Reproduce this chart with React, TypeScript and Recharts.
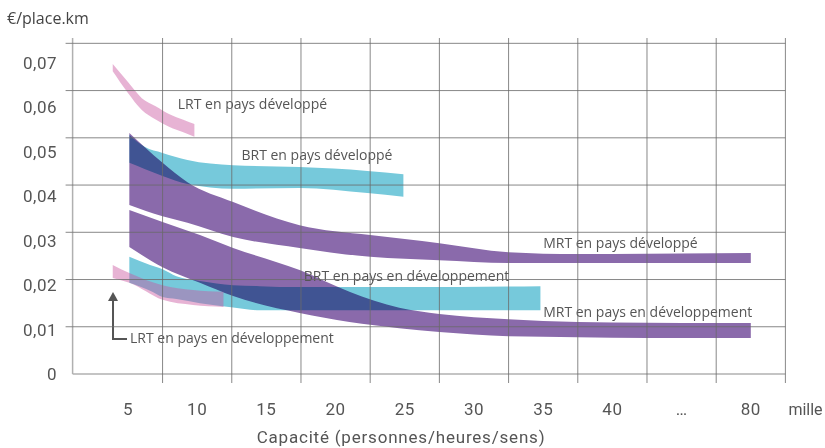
import React from 'react';
import { ComposedChart, Area, XAxis, YAxis, ReferenceDot, ReferenceLine, Label } from 'recharts';

// x axis is broken after 40: 5..40 every 5, then "…", then 80
const xTickLabels = ['5', '10', '15', '20', '25', '30', '35', '40', '…', '80'];
const xLabelTicks = [0, 1, 2, 3, 4, 5, 6, 7, 8, 9];
const xGridTicks = [0.5, 1.5, 2.5, 3.5, 4.5, 5.5, 6.5, 7.5, 8.5, 9.5];
const yTicks = [0, 0.01, 0.02, 0.03, 0.04, 0.05, 0.06, 0.07];

// capacity in thousands -> position on the axis
const pos = (c: number) => (c <= 40 ? (c - 5) / 5 : 7 + (c - 40) / 20);

// LRT en pays développé
const lrtDevCap = [3.9, 5, 6, 7, 8, 9, 9.8];
const lrtDevLow = [0.0641, 0.0595, 0.0559, 0.0539, 0.0523, 0.0512, 0.0502];
const lrtDevHigh = [0.0656, 0.0618, 0.0584, 0.0567, 0.055, 0.0538, 0.0529];

// BRT en pays développé
const brtDevCap = [5.1, 6.2, 7.5, 9.3, 12.6, 17.4, 22.3, 24.9];
const brtDevLow = [0.0447, 0.0434, 0.0419, 0.0402, 0.0392, 0.0394, 0.0383, 0.0375];
const brtDevHigh = [0.0506, 0.0481, 0.0468, 0.0453, 0.0442, 0.0438, 0.043, 0.0423];

// MRT en pays développé
const mrtDevCap = [5.1, 7.5, 9.3, 12.6, 17.4, 22.5, 27.5, 32.5, 37.5, 40, 60, 80];
const mrtDevLow = [0.0358, 0.0334, 0.032, 0.029, 0.0267, 0.0248, 0.0241, 0.0235, 0.0235, 0.0235, 0.0235, 0.0235];
const mrtDevHigh = [0.051, 0.0447, 0.0406, 0.0364, 0.0315, 0.0294, 0.0277, 0.0258, 0.0254, 0.0254, 0.0255, 0.0256];

// BRT en pays en développement
const brtEmCap = [5.1, 6.6, 7.5, 8.5, 10.2, 12.6, 14.5, 17.4, 25, 34.8];
const brtEmLow = [0.0193, 0.0176, 0.0163, 0.0159, 0.015, 0.0141, 0.0135, 0.0135, 0.0135, 0.0135];
const brtEmHigh = [0.0248, 0.0231, 0.0222, 0.0207, 0.0197, 0.0188, 0.0186, 0.0184, 0.0184, 0.0186];

// MRT en pays en développement
const mrtEmCap = [5.1, 7.5, 10.2, 12.6, 17.4, 21, 24.6, 27.5, 32.5, 37.5, 40, 60, 80];
const mrtEmLow = [0.0269, 0.0226, 0.0193, 0.0165, 0.0129, 0.011, 0.0097, 0.0089, 0.008, 0.0078, 0.0077, 0.0076, 0.0076];
const mrtEmHigh = [0.0347, 0.0322, 0.0294, 0.0267, 0.022, 0.0174, 0.014, 0.0127, 0.0116, 0.011, 0.0109, 0.0108, 0.0108];

// LRT en pays en développement
const lrtEmCap = [3.9, 5.1, 7.5, 9.7, 11.9];
const lrtEmLow = [0.0203, 0.0193, 0.0157, 0.0146, 0.0142];
const lrtEmHigh = [0.0231, 0.0214, 0.0188, 0.0178, 0.0174];

// text annotations: [label, capacity, value] at the left of the text
const notes: [string, number, number][] = [
  ['LRT en pays développé', 8.6, 0.0572],
  ['BRT en pays développé', 13.2, 0.0464],
  ['MRT en pays développé', 35, 0.0277],
  ['BRT en pays en développement', 17.7, 0.0207],
  ['MRT en pays en développement', 35, 0.0131],
  ['LRT en pays en développement', 5.15, 0.0076],
];

const band = (cap: number[], low: number[], high: number[]) =>
  cap.map((c, i) => ({ x: pos(c), range: [low[i], high[i]] }));

const W = 825;
const H = 448;
const X_AXIS_H = 74;
const Y_AXIS_W = 72.6;
const PLOT_BOTTOM = H - X_AXIS_H;
const X_DOMAIN = [-0.8, 9.5];
const Y_MAX = 0.07113;
// the printed y labels sit on a slightly compressed scale compared with the grid
const Y_LABEL_MAX = 0.07563;
const MARGIN = { top: 38, right: 39.6, bottom: 0, left: 0 };

const PINK = 'rgb(202,86,160)';
const CYAN = '#76c9db';
const PURPLE = '#8a6aab';
const GRID = '#6a6a6a';
const AXIS = '#b0b0b0';
const TEXT = '#555';
const TICK_FONT = 'Roboto';

const XTick = (props: any) => {
  const { x, y, payload } = props;
  const v = payload.value;
  if (Number.isInteger(v)) {
    return (
      <text x={x} y={y + 41} textAnchor="middle" fill={TEXT} fontSize={17} fontFamily={TICK_FONT} letterSpacing={0.5}>
        {xTickLabels[v]}
      </text>
    );
  }
  return <line x1={x} x2={x} y1={y} y2={y + 9} stroke={GRID} strokeOpacity={0.8} />;
};

const YTick = (props: any) => {
  const { x, y, payload } = props;
  const v = payload.value;
  const ly = PLOT_BOTTOM - ((PLOT_BOTTOM - y) * Y_MAX) / Y_LABEL_MAX;
  return (
    <g>
      {v > 0 && <line x1={x - 7} x2={x} y1={y} y2={y} stroke={GRID} strokeOpacity={0.8} />}
      <text x={x - 15.6} y={ly} dy="0.355em" textAnchor="end" fill={TEXT} fontSize={17} fontFamily={TICK_FONT} letterSpacing={0.5}>
        {v === 0 ? '0' : v.toFixed(2).replace('.', ',')}
      </text>
    </g>
  );
};

const NoTick = () => <g />;

const Arrow = (props: any) => {
  const { cx, cy } = props;
  return (
    <g>
      <path d={`M${cx + 14},${cy} H${cx} V${cy - 40}`} fill="none" stroke="#555" strokeWidth={2} />
      <path d={`M${cx - 5},${cy - 38} L${cx},${cy - 47} L${cx + 5},${cy - 38} Z`} fill="#555" />
    </g>
  );
};

const gridData = xGridTicks.map((x) => ({ x }));

export default function App() {
  return (
    <div style={{ position: 'relative', width: W, height: H, background: '#fff' }}>
      <style>{`body{margin:0} .mult{mix-blend-mode:multiply}`}</style>
      <div
        style={{
          position: 'absolute',
          left: 7,
          top: 7,
          fontFamily: 'Open Sans',
          fontSize: 16,
          color: '#444',
          lineHeight: '22px',
        }}
      >
        €/place.km
      </div>
      <ComposedChart width={W} height={H} margin={MARGIN}>
        <XAxis
          type="number"
          dataKey="x"
          domain={X_DOMAIN}
          allowDataOverflow
          ticks={[...xLabelTicks, ...xGridTicks].sort((a, b) => a - b)}
          interval={0}
          tick={XTick}
          tickLine={false}
          tickSize={0}
          tickMargin={0}
          axisLine={{ stroke: AXIS, strokeWidth: 1.5 }}
          height={X_AXIS_H}
        >
          <Label value="mille" position="right" offset={3} dy={-2} style={{ fontSize: 16, fill: TEXT, fontFamily: TICK_FONT }} />
          <Label
            value="Capacité (personnes/heures/sens)"
            position="insideBottom"
            offset={5}
            dx={-28}
            style={{ fontSize: 17, fill: TEXT, fontFamily: TICK_FONT, letterSpacing: 0.8 }}
          />
        </XAxis>
        <YAxis
          type="number"
          domain={[0, Y_MAX]}
          allowDataOverflow
          ticks={yTicks}
          interval={0}
          tick={YTick}
          tickLine={false}
          tickSize={0}
          tickMargin={0}
          axisLine={{ stroke: AXIS, strokeWidth: 1.5 }}
          width={Y_AXIS_W}
        />

        <Area className="mult" data={band(brtDevCap, brtDevLow, brtDevHigh)} dataKey="range" type="monotone" stroke="none" fill={CYAN} fillOpacity={1} isAnimationActive={false} />
        <Area className="mult" data={band(brtEmCap, brtEmLow, brtEmHigh)} dataKey="range" type="monotone" stroke="none" fill={CYAN} fillOpacity={1} isAnimationActive={false} />
        <Area className="mult" data={band(mrtDevCap, mrtDevLow, mrtDevHigh)} dataKey="range" type="monotone" stroke="none" fill={PURPLE} fillOpacity={1} isAnimationActive={false} />
        <Area className="mult" data={band(mrtEmCap, mrtEmLow, mrtEmHigh)} dataKey="range" type="monotone" stroke="none" fill={PURPLE} fillOpacity={1} isAnimationActive={false} />
        <Area data={band(lrtDevCap, lrtDevLow, lrtDevHigh)} dataKey="range" type="monotone" stroke="none" fill={PINK} fillOpacity={0.45} isAnimationActive={false} />
        <Area data={band(lrtEmCap, lrtEmLow, lrtEmHigh)} dataKey="range" type="monotone" stroke="none" fill={PINK} fillOpacity={0.45} isAnimationActive={false} />

        {notes.map(([text, c, v]) => (
          <ReferenceDot
            key={text}
            x={pos(c)}
            y={v}
            r={0}
            fill="none"
            stroke="none"
            label={{ value: text, position: 'right', offset: 0, fill: TEXT, fontSize: 14, fontFamily: 'Open Sans' }}
          />
        ))}
        <ReferenceDot x={pos(3.92)} y={0.0074} r={0} shape={Arrow} />
      </ComposedChart>

      {/* grid drawn over the bands, same geometry as the chart below */}
      <div style={{ position: 'absolute', left: 0, top: 0, pointerEvents: 'none' }}>
        <ComposedChart width={W} height={H} margin={MARGIN} data={gridData}>
          <XAxis type="number" dataKey="x" domain={X_DOMAIN} allowDataOverflow ticks={xGridTicks} tick={NoTick} tickLine={false} axisLine={false} height={X_AXIS_H} />
          <YAxis type="number" domain={[0, Y_MAX]} allowDataOverflow ticks={yTicks} tick={NoTick} tickLine={false} axisLine={false} width={Y_AXIS_W} />
          {yTicks.filter((v) => v > 0).map((v) => (
            <ReferenceLine key={'h' + v} y={v} stroke={GRID} strokeOpacity={0.8} strokeWidth={1} ifOverflow="visible" />
          ))}
          {xGridTicks.map((v) => (
            <ReferenceLine key={'v' + v} x={v} stroke={GRID} strokeOpacity={0.8} strokeWidth={1} ifOverflow="visible" />
          ))}
        </ComposedChart>
      </div>
    </div>
  );
}
